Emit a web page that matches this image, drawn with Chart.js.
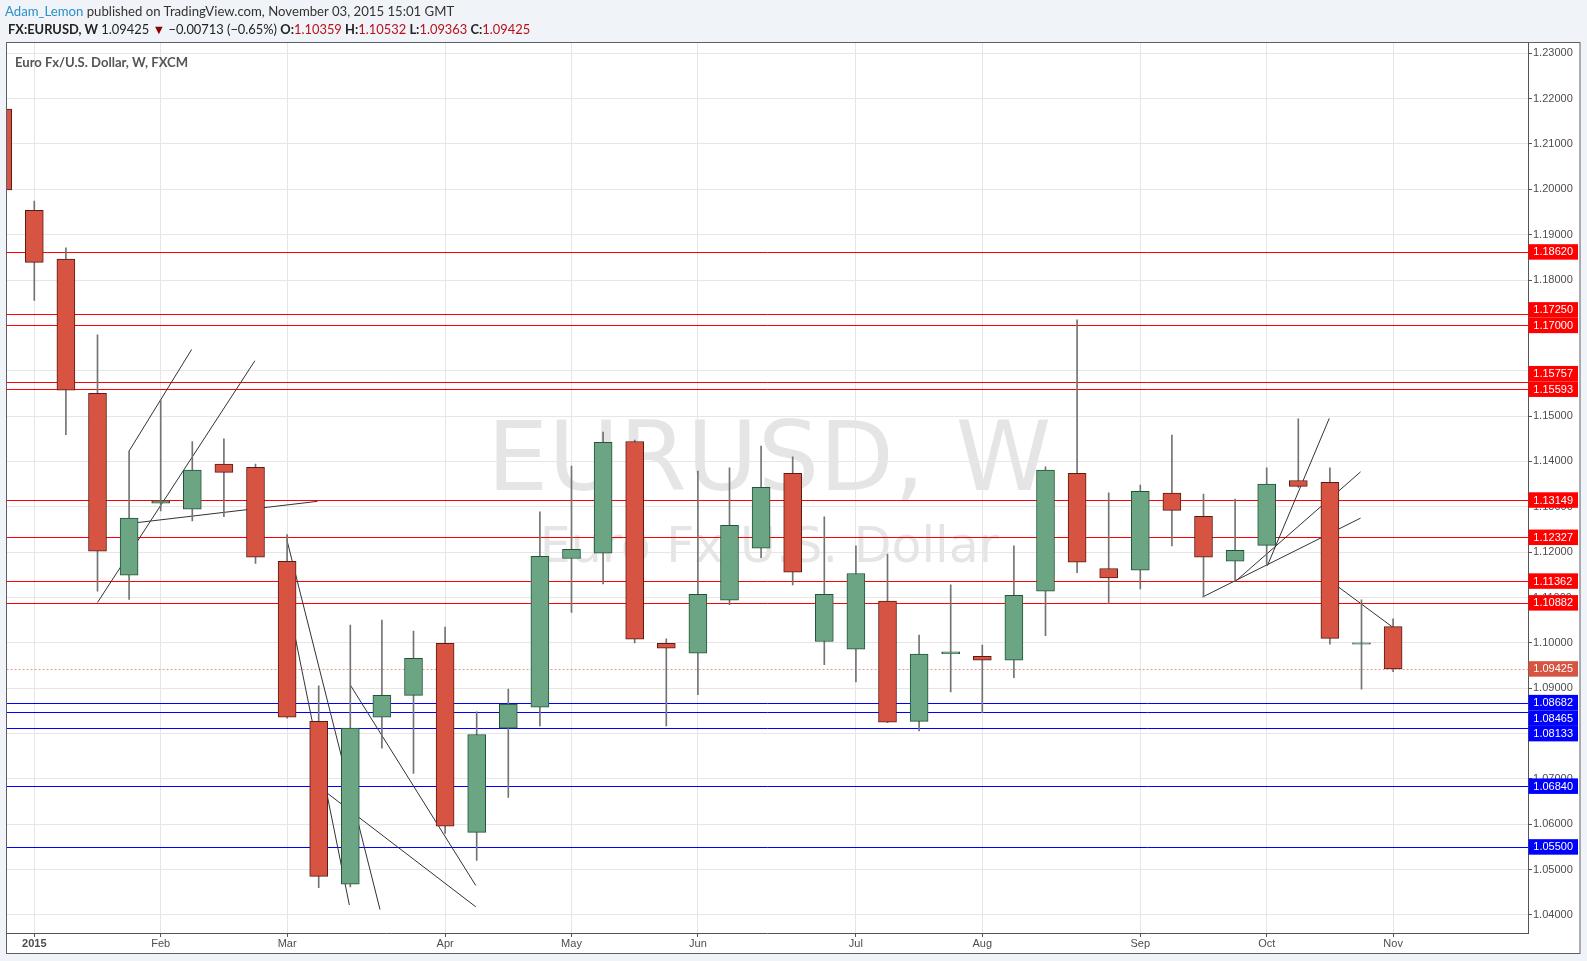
<!DOCTYPE html>
<html>
<head>
<meta charset="utf-8">
<script src="https://cdn.jsdelivr.net/npm/chart.js@4"></script>
<style>
html,body{margin:0;padding:0;background:#f0f3f7;width:1587px;height:961px;overflow:hidden;}
#c{position:absolute;left:0;top:0;}
.t{position:absolute;white-space:nowrap;font-family:Lato,"Liberation Sans",sans-serif;line-height:16px;height:16px;}
.v{color:#b5121b;}
</style>
</head>
<body>
<canvas id="c" width="1587" height="961"></canvas>
<div class="t" id="h1" style="left:5px;top:3px;color:#333;font-size:14px"><span style="color:#2a91c8">Adam_Lemon</span> published on TradingView.com, November 03, 2015 15:01 GMT</div>
<div class="t" id="h2" style="left:8px;top:21px;color:#222;font-size:13px"><b>FX:EURUSD, W</b> 1.09425 <span style="color:#8b0000">▼</span> −0.00713 (−0.65%) <b>O:</b><span class="v">1.10359</span> <b>H:</b><span class="v">1.10532</span> <b>L:</b><span class="v">1.09363</span> <b>C:</b><span class="v">1.09425</span></div>
<div class="t" id="h3" style="left:15px;top:54px;color:#555;font-weight:bold;font-size:13px">Euro Fx/U.S. Dollar, W, FXCM</div>
<script>
// ---------- DATA ----------
const weeks = ['2014-12-29','2015-01-05','2015-01-12','2015-01-19','2015-01-26','2015-02-02','2015-02-09','2015-02-16','2015-02-23',
  '2015-03-02','2015-03-09','2015-03-16','2015-03-23','2015-03-30','2015-04-06','2015-04-13','2015-04-20','2015-04-27',
  '2015-05-04','2015-05-11','2015-05-18','2015-05-25','2015-06-01','2015-06-08','2015-06-15','2015-06-22','2015-06-29',
  '2015-07-06','2015-07-13','2015-07-20','2015-07-27','2015-08-03','2015-08-10','2015-08-17','2015-08-24','2015-08-31',
  '2015-09-07','2015-09-14','2015-09-21','2015-09-28','2015-10-05','2015-10-12','2015-10-19','2015-10-26','2015-11-02'];
const open  = [1.2177,1.1954,1.1846,1.1550,1.1149,1.1308,1.1295,1.1394,1.1387,1.1180,1.0827,1.0468,1.0836,1.0884,1.0999,1.0582,1.0812,1.0858,1.1186,1.1198,1.1444,1.0999,1.0977,1.1094,1.1209,1.1374,1.1003,1.0986,1.1092,1.0827,1.0976,1.0970,1.0962,1.1114,1.1374,1.1164,1.1160,1.1330,1.1279,1.1180,1.1215,1.1358,1.1354,1.0997,1.10359];
const high  = [1.2250,1.1974,1.1871,1.1679,1.1423,1.1536,1.1444,1.1450,1.1394,1.1239,1.0905,1.1039,1.1050,1.1026,1.1035,1.0848,1.0898,1.1289,1.1390,1.1465,1.1447,1.1009,1.1379,1.1386,1.1434,1.1410,1.1278,1.1214,1.1196,1.1017,1.1128,1.0995,1.1214,1.1388,1.1712,1.1331,1.1348,1.1458,1.1328,1.1317,1.1386,1.1494,1.1386,1.1095,1.10532];
const low   = [1.1995,1.1755,1.1459,1.1114,1.1096,1.1291,1.1269,1.1278,1.1175,1.0834,1.0460,1.0462,1.0768,1.0712,1.0580,1.0520,1.0659,1.0817,1.1067,1.1130,1.1000,1.0817,1.0886,1.1084,1.1188,1.1128,1.0952,1.0914,1.0824,1.0806,1.0892,1.0846,1.0923,1.1016,1.1155,1.1087,1.1119,1.1214,1.1101,1.1136,1.1171,1.1343,1.0997,1.0898,1.09363];
const close = [1.1999,1.1839,1.1557,1.1202,1.1275,1.1313,1.1381,1.1376,1.1189,1.0836,1.0485,1.0812,1.0884,1.0966,1.0596,1.0798,1.0865,1.1191,1.1206,1.1442,1.1008,1.0988,1.1107,1.1259,1.1343,1.1156,1.1107,1.1153,1.0825,1.0975,1.0980,1.0962,1.1105,1.1381,1.1178,1.1143,1.1334,1.1292,1.1189,1.1204,1.1350,1.1345,1.1010,1.1000,1.09425];

const monthTickWeeks = ['2015-01-05','2015-02-02','2015-03-02','2015-04-06','2015-05-04','2015-06-01','2015-07-06','2015-08-03','2015-09-07','2015-10-05','2015-11-02'];
const monthLabels = ['2015','Feb','Mar','Apr','May','Jun','Jul','Aug','Sep','Oct','Nov'];
const yTicks = [1.04,1.05,1.06,1.07,1.08,1.09,1.10,1.11,1.12,1.13,1.14,1.15,1.16,1.17,1.18,1.19,1.20,1.21,1.22,1.23];

// horizontal levels (in drawing order)
const resistanceLevels = [1.18620,1.17000,1.17250,1.15593,1.15757,1.13149,1.12327,1.11362,1.10882];
const supportLevels = [1.08682,1.08465,1.08133,1.06840,1.05500];
const lastPrice = 1.09425;

// trend lines: [week position 1, price 1, week position 2, price 2]  (position 0 = week of 2015-01-05)
const trendLines = [
  [3, 1.1423, 4.98, 1.1647],
  [2, 1.1089, 6.98, 1.1622],
  [3, 1.1263, 8.96, 1.1312],
  [8, 1.1101, 9.97, 1.0422],
  [7.99, 1.1228, 10.94, 1.0412],
  [9, 1.0683, 13.97, 1.0418],
  [10, 1.0907, 13.97, 1.0465],
  [36.97, 1.1101, 41.97, 1.1275],
  [38, 1.1135, 41.97, 1.1377],
  [39.02, 1.1170, 40.98, 1.1495],
  [41, 1.1137, 42.96, 1.1036]
];

// ---------- CHART ----------
const base = weeks.indexOf('2015-01-05');
const pos = weeks.map((w, i) => i - base);
const monthPos = monthTickWeeks.map(w => weeks.indexOf(w) - base);
const up = close.map((c, i) => c >= open[i]);

Chart.defaults.font.family = '"Liberation Sans", Arial, sans-serif';

const decor = {
  id: 'decor',
  beforeDraw(chart) {
    const c = chart.ctx, a = chart.chartArea;
    c.save();
    c.fillStyle = '#f0f3f7';
    c.fillRect(0, 0, chart.width, chart.height);
    c.fillStyle = '#ffffff';
    c.fillRect(a.left, a.top, 1580 - a.left, 953.5 - a.top);
    const cx = (a.left + a.right) / 2 + 2;
    const cy = (a.top + a.bottom) / 2;
    c.fillStyle = 'rgba(0,0,0,0.1)';
    c.textAlign = 'center';
    c.textBaseline = 'alphabetic';
    c.font = '97px "DejaVu Sans"';
    c.fillText('EURUSD, W', cx, cy + 2);
    c.font = '49px "DejaVu Sans"';
    c.fillText('Euro Fx/U.S. Dollar', cx, cy + 74);
    c.restore();
  },
  beforeDatasetsDraw(chart) {
    const c = chart.ctx, a = chart.chartArea, ys = chart.scales.y;
    c.save();
    c.beginPath();
    c.rect(a.left, a.top, a.right - a.left, a.bottom - a.top);
    c.clip();
    c.lineWidth = 1;
    const drawLine = (v, col) => {
      const y = Math.round(ys.getPixelForValue(v)) + 0.5;
      c.strokeStyle = col;
      c.beginPath(); c.moveTo(a.left, y); c.lineTo(a.right, y); c.stroke();
    };
    resistanceLevels.forEach(v => drawLine(v, '#ff0000'));
    supportLevels.forEach(v => drawLine(v, '#0000ff'));
    c.setLineDash([2, 2]);
    drawLine(lastPrice, 'rgba(215,84,66,0.6)');
    c.restore();
  },
  afterDraw(chart) {
    const c = chart.ctx, a = chart.chartArea, ys = chart.scales.y;
    c.save();
    c.strokeStyle = '#5d6068';
    c.lineWidth = 1;
    c.strokeRect(a.left, a.top, 1580 - a.left, 953.5 - a.top);
    const H = 15.5;
    const placed = [];
    const all = [];
    resistanceLevels.forEach(v => all.push({ v, col: '#ff0000' }));
    supportLevels.forEach(v => all.push({ v, col: '#0000ff' }));
    all.push({ v: lastPrice, col: '#d75442' });
    c.font = '11px "Liberation Sans"';
    c.textAlign = 'left';
    c.textBaseline = 'middle';
    all.forEach(l => {
      const ly = ys.getPixelForValue(l.v);
      let y = ly;
      for (let k = 0; k < 4; k++) {
        placed.forEach(p => {
          if (Math.abs(y - p.y) < H - 0.01) y = ly < p.ly ? p.y - H : p.y + H;
        });
      }
      placed.push({ y, ly });
      c.fillStyle = l.col;
      c.fillRect(a.right + 0.5, y - H / 2, 49.5, H);
      c.fillStyle = '#ffffff';
      c.fillText(l.v.toFixed(5), a.right + 5.3, y + 0.5);
    });
    c.restore();
  }
};

new Chart(document.getElementById('c'), {
  type: 'bar',
  data: {
    datasets: [
      {
        label: 'body',
        data: pos.map((x, i) => ({ x, y: [Math.min(open[i], close[i]), Math.max(open[i], close[i])] })),
        backgroundColor: up.map(u => u ? '#6ba583' : '#d75442'),
        borderColor: up.map(u => u ? '#225437' : '#5b1a13'),
        borderWidth: 1, borderSkipped: false, barThickness: 18, grouped: false, order: 0
      },
      {
        label: 'wick',
        data: pos.map((x, i) => ({ x, y: [low[i], high[i]] })),
        backgroundColor: '#737373', borderWidth: 0, barThickness: 1, grouped: false, order: 1
      },
      ...trendLines.map((t, k) => ({
        type: 'line', label: 'trend' + k,
        data: [{ x: t[0], y: t[1] }, { x: t[2], y: t[3] }],
        borderColor: '#333333', borderWidth: 1, pointRadius: 0, fill: false, tension: 0, order: 2
      }))
    ]
  },
  options: {
    responsive: false, maintainAspectRatio: false, animation: false,
    devicePixelRatio: 1,
    layout: { padding: { left: 6.5, top: 42.5, right: 7, bottom: 8 } },
    plugins: { legend: { display: false }, tooltip: { enabled: false } },
    scales: {
      x: {
        type: 'linear', min: -0.8797, max: 47.269, offset: false,
        grid: { color: '#e6e6e6', tickColor: '#555', tickLength: 4, offset: false },
        border: { color: '#555', width: 1 },
        ticks: {
          autoSkip: false, maxRotation: 0, padding: 0, color: '#4d4d4d',
          font: (ctx) => ({ size: 11, weight: (ctx.tick && ctx.tick.value === monthPos[0]) ? 'bold' : 'normal' }),
          callback: (v) => { const k = monthPos.indexOf(v); return k >= 0 ? monthLabels[k] : ''; }
        },
        afterBuildTicks: (s) => { s.ticks = monthPos.map(v => ({ value: v })); },
        afterFit: (s) => { s.height = 20; }
      },
      y: {
        type: 'linear', position: 'right', min: 1.03602, max: 1.23238,
        grid: { color: '#e6e6e6', tickColor: '#555', tickLength: 4 },
        border: { color: '#555', width: 1 },
        ticks: { autoSkip: false, padding: 1, color: '#4d4d4d', font: { size: 11 }, callback: (v) => Number(v).toFixed(5) },
        afterBuildTicks: (s) => { s.ticks = yTicks.map(v => ({ value: v })); },
        afterFit: (s) => { s.width = 52; }
      }
    }
  },
  plugins: [decor]
});

// fit header text widths
function fit(id, w) {
  const el = document.getElementById(id);
  const fs = parseFloat(el.style.fontSize);
  const m = el.getBoundingClientRect().width;
  if (m > 0) el.style.fontSize = (fs * w / m).toFixed(2) + 'px';
}
function fitAll() { fit('h1', 449); fit('h2', 522); fit('h3', 173); }
fitAll();
if (document.fonts && document.fonts.ready) document.fonts.ready.then(fitAll);
</script>
</body>
</html>
